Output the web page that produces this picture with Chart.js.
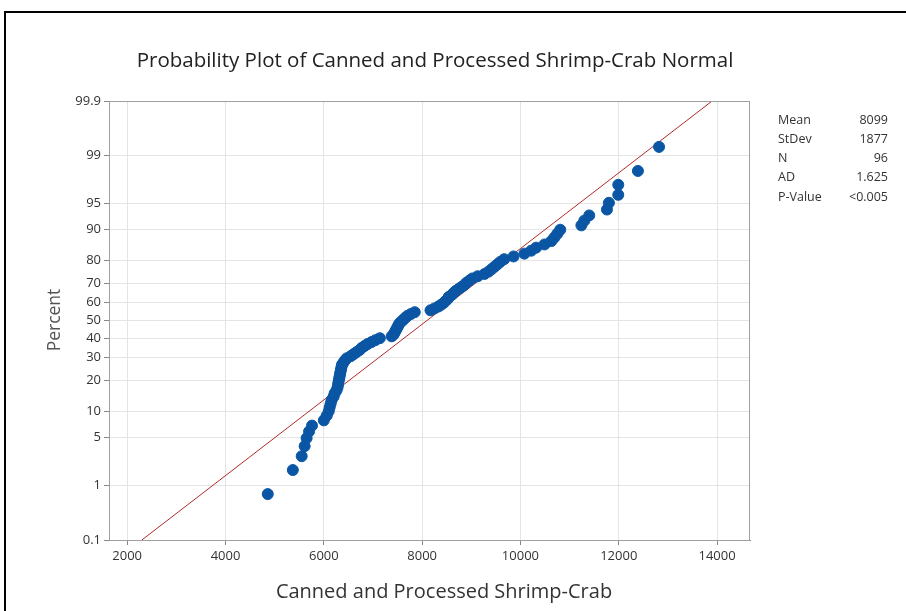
<!DOCTYPE html>
<html>
<head>
<meta charset="utf-8">
<script src="https://cdn.jsdelivr.net/npm/chart.js@4.4.1/dist/chart.umd.min.js"></script>
<style>
  body { margin: 0; background: #fff; }
  #wrap { position: relative; width: 906px; height: 611px; overflow: hidden; }
  #frame { position: absolute; left: 4px; top: 11px; width: 1000px; height: 1000px;
           border-top: 2px solid #000; border-left: 2px solid #000; }
  canvas { position: absolute; left: 0; top: 0; }
</style>
</head>
<body>
<div id="wrap">
  <div id="frame"></div>
  <canvas id="probPlot" width="906" height="611"></canvas>
</div>
<script>
// sorted sample, canned and processed shrimp-crab
var shrimpCrab = [
  4860, 5370, 5550, 5610, 5650, 5700, 5760, 6000, 6060, 6100,
  6120, 6140, 6160, 6200, 6220, 6260, 6280, 6290, 6300, 6310,
  6320, 6330, 6340, 6350, 6360, 6370, 6400, 6430, 6470, 6550,
  6610, 6670, 6730, 6770, 6830, 6890, 6970, 7050, 7140, 7380,
  7420, 7440, 7460, 7480, 7500, 7520, 7540, 7580, 7620, 7660,
  7700, 7770, 7850, 8170, 8250, 8330, 8390, 8440, 8480, 8520,
  8540, 8600, 8640, 8680, 8740, 8800, 8860, 8900, 8960, 9020,
  9130, 9270, 9350, 9410, 9470, 9530, 9590, 9670, 9860, 10080,
  10220, 10320, 10490, 10630, 10690, 10750, 10810, 11240, 11300, 11400,
  11760, 11800, 11990, 11990, 12390, 12820
];

var percentTicks = [0.1, 1, 5, 10, 20, 30, 40, 50, 60, 70, 80, 90, 95, 99, 99.9];
var xTicks = [2000, 4000, 6000, 8000, 10000, 12000, 14000];

var statLabels = ['Mean', 'StDev', 'N', 'AD', 'P-Value'];
var statValues = ['8099', '1877', '96', '1.625', '<0.005'];

var fitMean = 8099;
var fitStDev = 1877;

// inverse of the standard normal cdf (Acklam)
function probit(p) {
  var a = [-39.69683028665376, 220.9460984245205, -275.9285104469687, 138.3577518672690, -30.66479806614716, 2.506628277459239];
  var b = [-54.47609879822406, 161.5858368580409, -155.6989798598866, 66.80131188771972, -13.28068155288572];
  var c = [-0.007784894002430293, -0.3223964580411365, -2.400758277161838, -2.549732539343734, 4.374664141464968, 2.938163982698783];
  var d = [0.007784695709041462, 0.3224671290700398, 2.445134137142996, 3.754408661907416];
  var q, r;
  if (p < 0.02425) {
    q = Math.sqrt(-2 * Math.log(p));
    return (((((c[0]*q+c[1])*q+c[2])*q+c[3])*q+c[4])*q+c[5]) / ((((d[0]*q+d[1])*q+d[2])*q+d[3])*q+1);
  }
  if (p > 1 - 0.02425) {
    q = Math.sqrt(-2 * Math.log(1 - p));
    return -(((((c[0]*q+c[1])*q+c[2])*q+c[3])*q+c[4])*q+c[5]) / ((((d[0]*q+d[1])*q+d[2])*q+d[3])*q+1);
  }
  q = p - 0.5;
  r = q * q;
  return (((((a[0]*r+a[1])*r+a[2])*r+a[3])*r+a[4])*r+a[5])*q / (((((b[0]*r+b[1])*r+b[2])*r+b[3])*r+b[4])*r+1);
}

// median-rank plotting positions
var n = shrimpCrab.length;
var points = shrimpCrab.map(function (v, i) {
  return { x: v, y: probit((i + 1 - 0.3) / (n + 0.4)) };
});

var zLow = probit(percentTicks[0] / 100);
var zHigh = probit(percentTicks[percentTicks.length - 1] / 100);
var fitLine = [
  { x: fitMean + fitStDev * zLow, y: zLow },
  { x: fitMean + fitStDev * zHigh, y: zHigh }
];

var FONT = "'Open Sans', 'Noto Sans', sans-serif";

var textPlugin = {
  id: 'plotText',
  afterDraw: function (chart) {
    var ctx = chart.ctx;
    var area = chart.chartArea;
    ctx.save();
    // box round the plot area
    ctx.strokeStyle = '#a0a0a0';
    ctx.lineWidth = 1;
    ctx.strokeRect(area.left + 0.5, area.top + 0.5, area.right - area.left - 1, area.bottom - area.top);

    ctx.fillStyle = '#222';
    ctx.textBaseline = 'middle';
    ctx.textAlign = 'center';
    ctx.font = '20.5px ' + FONT;
    ctx.fillText('Probability Plot of Canned and Processed Shrimp-Crab Normal', 435, 61);

    ctx.font = '20px ' + FONT;
    ctx.fillStyle = '#333';
    ctx.fillText('Canned and Processed Shrimp-Crab', 444, 592);

    ctx.save();
    ctx.translate(55, 320);
    ctx.rotate(-Math.PI / 2);
    ctx.fillStyle = '#555';
    ctx.font = '17.5px ' + FONT;
    ctx.fillText('Percent', 0, 0);
    ctx.restore();

    ctx.font = '12.5px ' + FONT;
    ctx.fillStyle = '#333';
    for (var i = 0; i < statLabels.length; i++) {
      var y = 120 + i * 19.3;
      ctx.textAlign = 'left';
      ctx.fillText(statLabels[i], 778, y);
      ctx.textAlign = 'right';
      ctx.fillText(statValues[i], 888, y);
    }
    ctx.restore();
  }
};

var ctx = document.getElementById('probPlot').getContext('2d');
var probChart = new Chart(ctx, {
  type: 'scatter',
  data: {
    datasets: [{
      label: 'Shrimp-Crab',
      data: points,
      backgroundColor: '#0a56a4',
      borderColor: '#0a56a4',
      pointRadius: 5.5,
      pointHoverRadius: 5.5
    }, {
      type: 'line',
      label: 'Fit',
      data: fitLine,
      borderColor: '#b22a2a',
      borderWidth: 1,
      pointRadius: 0,
      fill: false
    }]
  },
  options: {
    responsive: false,
    animation: false,
    layout: { padding: { top: 101, right: 156, left: 0, bottom: 0 } },
    plugins: {
      legend: { display: false },
      title: { display: false },
      tooltip: { enabled: false }
    },
    scales: {
      x: {
        type: 'linear',
        min: 1630,
        max: 14670,
        afterBuildTicks: function (scale) {
          scale.ticks = xTicks.map(function (v) { return { value: v }; });
        },
        afterFit: function (scale) { scale.height = 71; },
        grid: { color: '#e4e4e4', tickLength: 5, tickColor: '#888' },
        border: { color: '#888' },
        ticks: {
          autoSkip: false,
          maxRotation: 0,
          padding: 3,
          color: '#333',
          font: { family: FONT, size: 13 },
          callback: function (value, index) { return String(xTicks[index]); }
        }
      },
      y: {
        type: 'linear',
        min: zLow,
        max: zHigh,
        afterBuildTicks: function (scale) {
          scale.ticks = percentTicks.map(function (p) { return { value: probit(p / 100) }; });
        },
        afterFit: function (scale) { scale.width = 109; },
        grid: { color: '#e4e4e4', tickLength: 5, tickColor: '#888' },
        border: { color: '#888' },
        ticks: {
          autoSkip: false,
          padding: 3,
          color: '#333',
          font: { family: FONT, size: 13 },
          callback: function (value, index) { return String(percentTicks[index]); }
        }
      }
    }
  },
  plugins: [textPlugin]
});
</script>
</body>
</html>
